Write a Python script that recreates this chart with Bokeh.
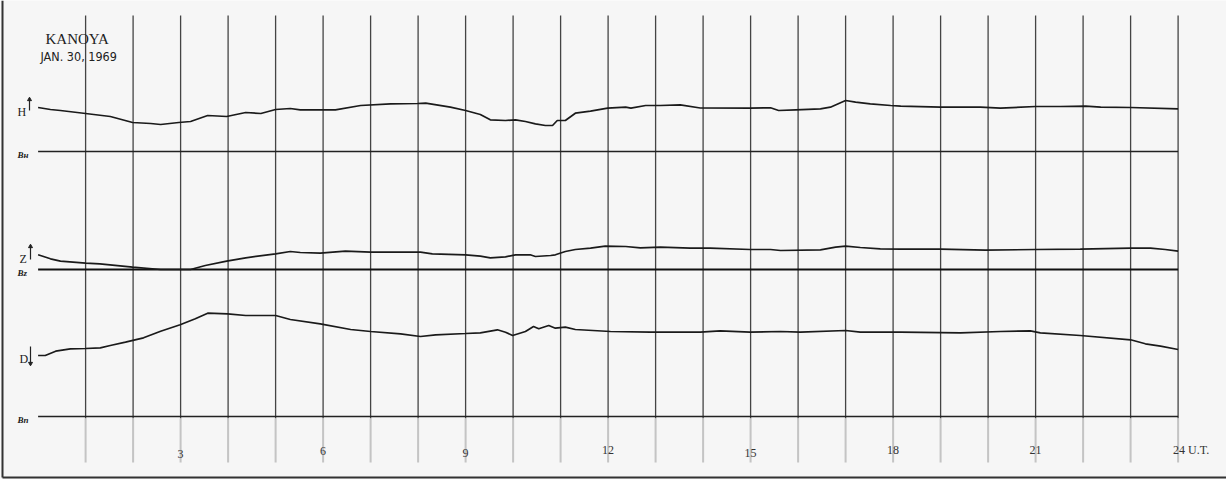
from bokeh.plotting import figure
from bokeh.models import Range1d
from bokeh.core.properties import value
from bokeh.embed import file_html
from bokeh.resources import INLINE

# ---------------- data (hours U.T., deflection above baseline in chart units) -------------
h_hours = [0.0, 0.26, 0.47, 1.0, 1.52, 1.99, 2.37, 2.58, 2.96, 3.21, 3.57, 3.97, 4.37, 4.69,
           5.0, 5.31, 5.52, 6.26, 6.79, 7.42, 7.99, 8.16, 8.68, 9.0, 9.31, 9.52, 9.84, 10.05,
           10.26, 10.47, 10.68, 10.83, 10.93, 11.1, 11.31, 11.63, 11.99, 12.37, 12.48, 12.79,
           13.1, 13.52, 13.94, 14.99, 15.42, 15.59, 15.95, 16.47, 16.68, 17.0, 17.21, 17.52,
           17.95, 18.16, 19.0, 19.84, 20.26, 21.0, 21.52, 22.05, 22.37, 23.0, 24.0]
h_vals = [44, 42, 41, 38, 35, 29, 28, 27, 29, 30, 36, 35, 39, 38,
          42, 43, 41.7, 41.7, 46, 47.7, 48, 48.3, 44.3, 41, 37, 31.7, 31, 31.7,
          30, 27.7, 26, 26, 31, 31, 38.3, 40.3, 43.3, 44.3, 43.3, 46,
          46, 46.7, 43.5, 43.3, 43.7, 41, 41.7, 42.7, 44.3, 51, 49.3, 47.7,
          46, 45.3, 44.3, 44.3, 43.3, 45, 45, 45.3, 44.3, 44, 42.7]

z_hours = [0.0, 0.26, 0.47, 1.0, 1.3, 1.99, 2.58, 2.96, 3.21, 3.52, 3.97, 4.37, 5.0, 5.31,
           5.52, 5.94, 6.47, 7.0, 7.63, 8.05, 8.3, 9.0, 9.31, 9.52, 9.84, 10.05, 10.36, 10.47,
           10.79, 10.89, 11.1, 11.31, 11.63, 11.94, 12.37, 12.68, 13.1, 13.73, 14.15, 14.99,
           15.42, 15.63, 16.47, 16.79, 17.0, 17.31, 17.73, 18.16, 19.0, 19.94, 21.0, 21.94,
           23.0, 23.42, 23.73, 24.0]
z_vals = [14.7, 10.7, 8.3, 6.3, 5.7, 2.3, 0, 0, 0, 4, 8.3, 11.7, 15.7, 18,
          17, 16.3, 18.3, 17.3, 17.3, 17.3, 15.7, 14.7, 13.3, 11.7, 12.7, 14.7, 14.7, 13,
          14, 14.7, 18, 20, 21.3, 23.3, 23, 21.7, 22.3, 21.3, 21.3, 20,
          20, 19, 19.7, 22.3, 23.3, 22, 20.7, 20.3, 20.3, 19.3, 20, 20.3,
          21.3, 21.3, 20, 18.3]

d_hours = [0.0, 0.15, 0.37, 0.68, 1.0, 1.31, 1.52, 1.84, 2.22, 2.58, 2.99, 3.31, 3.57, 3.99,
           4.37, 5.0, 5.31, 5.94, 6.58, 7.0, 7.63, 8.05, 8.37, 9.0, 9.31, 9.67, 9.84, 9.99,
           10.26, 10.43, 10.54, 10.75, 10.89, 11.1, 11.31, 12.05, 12.89, 13.94, 14.36, 14.99,
           15.63, 16.05, 17.0, 17.31, 18.16, 19.42, 20.26, 20.89, 21.1, 21.94, 23.0, 23.31,
           23.63, 24.0]
d_vals = [61, 61, 65.3, 67.7, 68, 68.7, 71, 74.3, 78.7, 85.3, 91.7, 97.7, 103.3, 102.7,
          101, 101, 97, 92.7, 87, 85, 82.7, 80, 81.7, 83, 83.7, 86.7, 84.3, 81,
          85, 90, 87.7, 91, 88.3, 89.3, 87, 85, 84.3, 84.3, 85.7, 84.3,
          85, 84.3, 86, 84.3, 84.3, 83.7, 85, 85.7, 83.7, 81, 76.7, 72.7,
          70.3, 67]

tick_hours = [3, 6, 9, 12, 15, 18, 21, 24]
tick_labels = ["3", "6", "9", "12", "15", "18", "21", "24 U.T."]
grid_hours = list(range(1, 25))

# ---------------- layout (screen-like vertical coordinates, y grows downward) -------------
W, H = 1226, 479
OFF = 0
X0_IMG, PX_PER_H = 37.6, 47.5        # hour 0 position and hour width in page pixels
def hx(xpix):                         # page x pixel -> hour
    return (xpix - X0_IMG) / PX_PER_H

BASE_H, BASE_Z, BASE_D = 151, 269, 416

p = figure(width=W, height=H, output_backend="svg", toolbar_location=None,
           x_range=Range1d(hx(OFF), hx(OFF + W)), y_range=Range1d(OFF + H, OFF),
           min_border=0, background_fill_color="#f6f6f6", border_fill_color="#f6f6f6",
           outline_line_color=None)
p.xaxis.visible = False
p.yaxis.visible = False
p.xgrid.visible = False
p.ygrid.visible = False

# frame edges of the scanned sheet
p.line([hx(2), hx(2)], [0, 477], line_color="#333333", line_width=2)
p.line([hx(2), hx(1226)], [477, 477], line_color="#333333", line_width=2)

# hour lines
for hh in grid_hours:
    p.line([hh, hh], [15, 418], line_color="#444444", line_width=1.3)
    p.line([hh, hh], [418, 462], line_color="#c4c4c4", line_width=2)

# baselines
p.line([0, 24], [BASE_H, BASE_H], line_color="#222222", line_width=1.3)
p.line([0, 24], [BASE_Z, BASE_Z], line_color="#111111", line_width=2.0)
p.line([0, 24], [BASE_D, BASE_D], line_color="#222222", line_width=1.5)

# traces
p.line(h_hours, [BASE_H - v for v in h_vals], line_color="#1a1a1a", line_width=1.7)
p.line(z_hours, [BASE_Z - v for v in z_vals], line_color="#1a1a1a", line_width=1.7)
p.line(d_hours, [BASE_D - v for v in d_vals], line_color="#1a1a1a", line_width=1.7)

serif = value("Liberation Serif")

# title
p.text(x=[hx(45)], y=[38], text=["KANOYA"], text_font=serif, text_font_size="15px",
       text_color="#222222", text_baseline="alphabetic", text_align="left")
p.text(x=[hx(40)], y=[56], text=["JAN. 30, 1969"],
       text_font=value("'Liberation Sans Narrow', 'DejaVu Sans Condensed', sans-serif"),
       text_font_size="12.5px", text_color="#222222", text_baseline="alphabetic",
       text_align="left")

# component labels
p.text(x=[hx(17), hx(19), hx(19)], y=[111, 258, 358], text=["H", "Z", "D"], text_font=serif,
       text_font_size="12px", text_color="#222222", text_baseline="alphabetic")
p.text(x=[hx(17), hx(17), hx(17)], y=[BASE_H + 3, BASE_Z + 3, BASE_D + 3],
       text=["Bн", "Bz", "Bn"], text_font=serif, text_font_style="bold italic",
       text_font_size="9px", text_color="#222222", text_baseline="alphabetic")
# arrows
p.segment(x0=[hx(29), hx(30), hx(30)], y0=[110, 259, 346], x1=[hx(29), hx(30), hx(30)],
          y1=[99, 246, 363], line_color="#222222", line_width=1.2)
p.scatter(x=[hx(29), hx(30)], y=[99, 246], marker="triangle", size=4, color="#222222")
p.scatter(x=[hx(30)], y=[363], marker="inverted_triangle", size=4, color="#222222")

# time labels
p.text(x=tick_hours[:-1], y=[453, 450, 452, 449, 452, 449, 449], text=tick_labels[:-1],
       text_font=serif, text_font_size="12px", text_color="#333333",
       text_align="center", text_baseline="alphabetic")
p.text(x=[24], y=[449], text=[tick_labels[-1]], text_font=serif, text_font_size="12px",
       text_color="#333333", text_align="left", text_baseline="alphabetic",
       x_offset=-5)

open("out.html", "w").write(file_html(p, INLINE))
